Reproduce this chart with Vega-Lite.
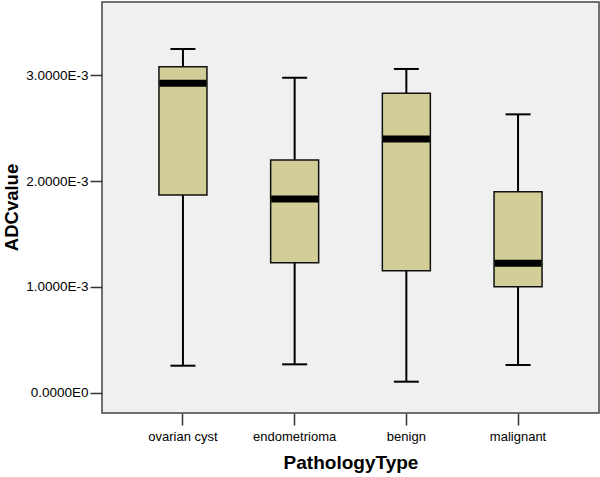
{
  "$schema": "https://vega.github.io/schema/vega-lite/v6.json",
  "width": 497,
  "height": 411,
  "autosize": "none",
  "padding": {"left": 102, "top": 2, "right": 1, "bottom": 64},
  "background": "white",
  "config": {
    "view": {"fill": "#f0f0f0", "stroke": "#444444", "strokeWidth": 1.5},
    "font": "Liberation Sans"
  },
  "data": {
    "values": [
      {"type": "ovarian cyst", "min": 0.000255, "q1": 0.001869, "median": 0.002924, "q3": 0.003081, "max": 0.003249},
      {"type": "endometrioma", "min": 0.000268, "q1": 0.001229, "median": 0.001831, "q3": 0.002199, "max": 0.002977},
      {"type": "benign", "min": 0.000104, "q1": 0.001153, "median": 0.002398, "q3": 0.00283, "max": 0.00306},
      {"type": "malignant", "min": 0.000262, "q1": 0.001002, "median": 0.001223, "q3": 0.0019, "max": 0.002631}
    ]
  },
  "encoding": {
    "x": {
      "field": "type", "type": "nominal", "sort": null,
      "scale": {"paddingInner": 0, "paddingOuter": 0.2247},
      "axis": {
        "title": "PathologyType", "titleFontSize": 19, "titleFontWeight": "bold", "titleColor": "black",
        "titlePadding": 10,
        "labelAngle": 0, "labelFontSize": 13, "labelColor": "black", "labelPadding": 5,
        "tickSize": 12, "tickColor": "#333333", "tickWidth": 1.5, "domain": false
      }
    }
  },
  "layer": [
    {
      "mark": {"type": "rule", "color": "black", "strokeWidth": 2},
      "encoding": {
        "y": {
          "field": "min", "type": "quantitative",
          "scale": {"domain": [-0.000192, 0.003693], "nice": false, "zero": false},
          "axis": {
            "title": "ADCvalue", "titleFontSize": 18.5, "titleFontWeight": "bold", "titleColor": "black",
            "titleX": -100, "titleY": 205, "titleBaseline": "top", "titleAlign": "center", "titleAngle": -90,
            "values": [0, 0.001, 0.002, 0.003],
            "labelExpr": "datum.value == 0 ? '0.0000E0' : format(datum.value * 1000, '.4f') + 'E-3'",
            "labelFontSize": 13.5, "labelColor": "black", "labelPadding": 2,
            "tickSize": 12, "tickColor": "#333333", "tickWidth": 1.5, "domain": false, "grid": false
          }
        },
        "y2": {"field": "max"}
      }
    },
    {
      "mark": {"type": "tick", "color": "black", "size": 25, "thickness": 2, "opacity": 1},
      "encoding": {"y": {"field": "min", "type": "quantitative"}}
    },
    {
      "mark": {"type": "tick", "color": "black", "size": 25, "thickness": 2, "opacity": 1},
      "encoding": {"y": {"field": "max", "type": "quantitative"}}
    },
    {
      "mark": {"type": "bar", "size": 48, "fill": "#d3ce98", "stroke": "#111111", "strokeWidth": 1.5},
      "encoding": {
        "y": {"field": "q1", "type": "quantitative"},
        "y2": {"field": "q3"}
      }
    },
    {
      "mark": {"type": "tick", "color": "black", "size": 47, "thickness": 7, "opacity": 1},
      "encoding": {"y": {"field": "median", "type": "quantitative"}}
    }
  ]
}
